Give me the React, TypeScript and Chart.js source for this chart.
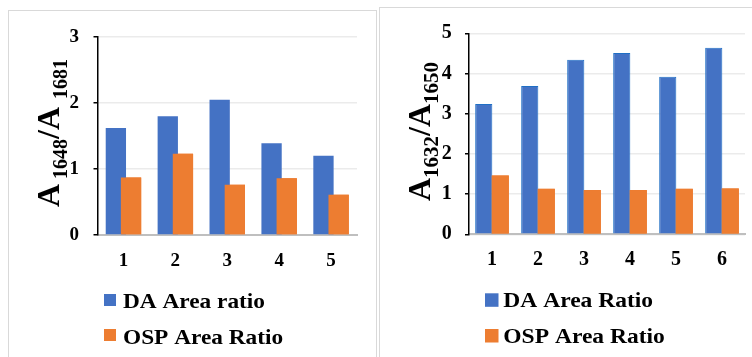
import React, { useEffect, useRef } from "react";
import { Chart, registerables } from "chart.js";

Chart.register(...registerables);

// ---------- Data ----------
const leftCategories = ["1", "2", "3", "4", "5"];
const leftDA = [1.62, 1.8, 2.05, 1.39, 1.2];
const leftOSP = [0.87, 1.23, 0.76, 0.86, 0.61];
const leftYMax = 3;
const leftSeriesLabels = ["DA Area ratio", "OSP Area Ratio"];
const leftTitleSegments = [
  { t: "A", sub: false },
  { t: " 1648", sub: true },
  { t: "/", sub: false },
  { t: "A ", sub: false },
  { t: "1681", sub: true },
];

const rightCategories = ["1", "2", "3", "4", "5", "6"];
const rightDA = [3.24, 3.69, 4.34, 4.51, 3.92, 4.64];
const rightOSP = [1.46, 1.13, 1.1, 1.1, 1.13, 1.14];
const rightYMax = 5;
const rightSeriesLabels = ["DA Area Ratio", "OSP Area Ratio"];
const rightTitleSegments = [
  { t: "A", sub: false },
  { t: "1632", sub: true },
  { t: "/", sub: false },
  { t: "A", sub: false },
  { t: "1650", sub: true },
];

const BLUE = "#4472C4";
const ORANGE = "#ED7D31";
const FONT = "'Liberation Serif', 'Times New Roman', serif";

const decorPlugin = {
  id: "decor",
  afterDatasetsDraw(chart: any) {
    // orange series drawn over the blue one
    const meta = chart.getDatasetMeta(1);
    if (meta && meta.controller) {
      chart.ctx.save();
      meta.controller.draw();
      chart.ctx.restore();
    }
  },
  afterDraw(chart: any, _args: any, opts: any) {
    const ctx = chart.ctx as CanvasRenderingContext2D;
    // ---- Y axis title with subscripts ----
    const t = opts.title;
    ctx.save();
    ctx.fillStyle = "#000";
    ctx.textBaseline = "alphabetic";
    ctx.textAlign = "left";
    const bigFont = `bold ${t.bigSize}px ${FONT}`;
    const subFont = `bold ${t.subSize}px ${FONT}`;
    let total = 0;
    const widths: number[] = [];
    for (const s of t.segments) {
      ctx.font = s.sub ? subFont : bigFont;
      const w = ctx.measureText(s.t).width;
      widths.push(w);
      total += w;
    }
    ctx.translate(t.x, t.cy);
    ctx.rotate(-Math.PI / 2);
    let pos = -total / 2;
    t.segments.forEach((s: any, i: number) => {
      ctx.font = s.sub ? subFont : bigFont;
      ctx.fillText(s.t, pos, s.sub ? t.subShift : 0);
      pos += widths[i];
    });
    ctx.restore();

    // ---- Legend ----
    const L = opts.legend;
    ctx.save();
    chart.data.datasets.forEach((ds: any, i: number) => {
      ctx.fillStyle = ds.backgroundColor;
      ctx.fillRect(L.boxX, L.boxY[i], L.boxSize, L.boxSize);
      ctx.save();
      ctx.fillStyle = "#000";
      ctx.font = `bold ${L.fontSize}px ${FONT}`;
      ctx.textBaseline = "alphabetic";
      ctx.textAlign = "left";
      ctx.translate(L.textX, L.baseY[i]);
      ctx.scale(L.scaleX, 1);
      ctx.fillText(ds.label, 0, 0);
      ctx.restore();
    });
    ctx.restore();
  },
};

function buildConfig(p: any): any {
  return {
    type: "bar",
    data: {
      labels: p.categories,
      datasets: [
        {
          label: p.seriesLabels[0],
          data: p.da,
          backgroundColor: BLUE,
          borderColor: p.blueBorder,
          borderWidth: p.blueBorderWidth,
          categoryPercentage: p.catPct,
          barPercentage: p.barPct,
        },
        {
          label: p.seriesLabels[1],
          data: p.osp,
          backgroundColor: ORANGE,
          borderWidth: 0,
          categoryPercentage: p.catPct,
          barPercentage: p.barPct,
        },
      ],
    },
    options: {
      responsive: false,
      maintainAspectRatio: false,
      animation: false,
      events: [],
      layout: { padding: { left: 0, top: p.padTop, right: p.padRight, bottom: 0 } },
      plugins: {
        legend: { display: false },
        tooltip: { enabled: false },
        title: { display: false },
        decor: { title: p.title, legend: p.legend },
      },
      scales: {
        x: {
          grid: { display: false, drawTicks: false },
          border: { display: true, color: "#BFBFBF", width: 2 },
          ticks: {
            color: "#000",
            padding: p.xPad,
            font: { family: FONT, size: p.tickSize, weight: "bold" },
          },
          afterFit: (s: any) => {
            s.height = p.xHeight;
          },
        },
        y: {
          min: 0,
          max: p.yMax,
          ticks: {
            stepSize: 1,
            color: "#000",
            padding: p.yPad,
            font: { family: FONT, size: p.tickSize, weight: "bold" },
          },
          grid: {
            color: "#EBEBEB",
            lineWidth: 1.5,
            tickLength: 4,
            tickColor: "#000",
            tickWidth: 1.5,
          },
          border: { display: true, color: "#000", width: 1.5 },
          afterFit: (s: any) => {
            s.width = p.yWidth;
          },
        },
      },
    },
    plugins: [decorPlugin],
  };
}

const leftParams = {
  categories: leftCategories,
  da: leftDA,
  osp: leftOSP,
  yMax: leftYMax,
  seriesLabels: leftSeriesLabels,
  blueBorder: BLUE,
  blueBorderWidth: 0,
  catPct: 0.584,
  barPct: 1.34,
  padTop: 19.3,
  padRight: 19,
  yWidth: 88.5,
  xHeight: 122,
  xPad: 14.6,
  yPad: 14.5,
  tickSize: 19,
  title: { segments: leftTitleSegments, bigSize: 32, subSize: 20, x: 50, cy: 122, subShift: 7.7 },
  legend: { boxX: 95, boxY: [283, 318], boxSize: 12, textX: 114, baseY: [296.7, 332.5], fontSize: 21, scaleX: 1.11 },
};

const rightParams = {
  categories: rightCategories,
  da: rightDA,
  osp: rightOSP,
  yMax: rightYMax,
  seriesLabels: rightSeriesLabels,
  blueBorder: "#1F6FC5",
  blueBorderWidth: 1,
  catPct: 0.717,
  barPct: 1.04,
  padTop: 19.3,
  padRight: 7,
  yWidth: 89,
  xHeight: 122.7,
  xPad: 13.5,
  yPad: 13.3,
  tickSize: 20,
  title: { segments: rightTitleSegments, bigSize: 32, subSize: 21, x: 50, cy: 123.5, subShift: 8 },
  legend: { boxX: 105, boxY: [285.3, 321], boxSize: 13.5, textX: 123.3, baseY: [298.7, 335.3], fontSize: 21, scaleX: 1.12 },
};

function ChartCanvas({ params, width, height }: { params: any; width: number; height: number }) {
  const ref = useRef<HTMLCanvasElement | null>(null);
  useEffect(() => {
    if (!ref.current) return;
    const chart = new Chart(ref.current, buildConfig(params));
    return () => chart.destroy();
  }, [params]);
  return <canvas ref={ref} width={width} height={height} style={{ display: "block", width, height }} />;
}

export default function App() {
  return (
    <div
      style={{
        position: "fixed",
        left: 0,
        top: 0,
        width: 752,
        height: 357,
        overflow: "hidden",
        background: "#fff",
      }}
    >
      <div
        style={{
          position: "absolute",
          left: 8,
          top: 10,
          width: 369,
          height: 400,
          border: "1px solid #D9D9D9",
          boxSizing: "border-box",
        }}
      >
        <ChartCanvas params={leftParams} width={367} height={346} />
      </div>
      <div
        style={{
          position: "absolute",
          left: 379,
          top: 7,
          width: 400,
          height: 400,
          border: "1px solid #D9D9D9",
          boxSizing: "border-box",
        }}
      >
        <ChartCanvas params={rightParams} width={372} height={349} />
      </div>
    </div>
  );
}
